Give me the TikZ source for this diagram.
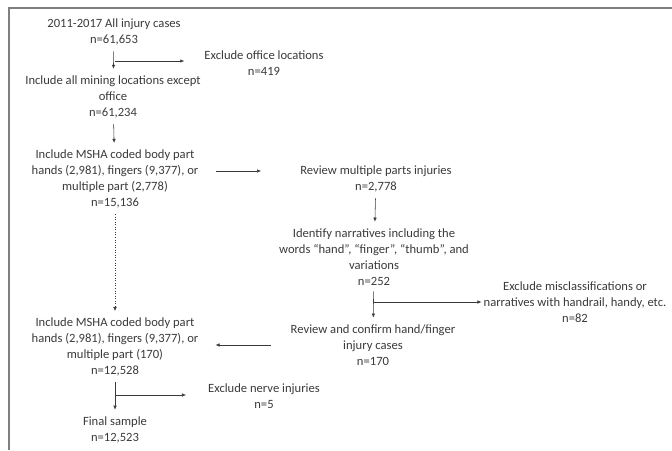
\documentclass[tikz,border=0pt]{standalone}
\usepackage{fontspec}
\setmainfont{Carlito}
\usetikzlibrary{arrows.meta}
\definecolor{txt}{HTML}{3A3A3A}
\definecolor{frm}{HTML}{7F7F7F}
\tikzset{
  box/.style={align=center, inner sep=0pt, text=txt,
    font=\fontsize{12.6}{15.8}\selectfont},
  arr/.style={-{Latex[length=4pt,width=3.5pt]}, draw=txt, line width=0.55pt,
    shorten <=6pt, shorten >=7pt},
  hop/.style={-{Latex[length=4pt,width=3.5pt]}, draw=txt, line width=0.55pt}
}
\begin{document}
\begin{tikzpicture}[x=1pt, y=-1pt]
        \useasboundingbox (0,0) rectangle (672,450);
        \draw[frm, line width=1.6pt] (9,450) -- (9,8) -- (672,8);
        % main column
        \node (s0) [box] at (114, 32) {2011-2017 All injury cases\\n=61,653};
        \node (s1) [box] at (113, 97) {Include all mining locations except\\office\\n=61,234};
        \node (s2) [box] at (115, 179) {Include MSHA coded body part\\hands (2,981), fingers (9,377), or\\multiple part (2,778)\\n=15,136};
        \node (s3) [box] at (115, 347) {Include MSHA coded body part\\hands (2,981), fingers (9,377), or\\multiple part (170)\\n=12,528};
        \node (s4) [box] at (115, 430) {Final sample\\n=12,523};
        % review column
        \node (r0) [box] at (376, 179) {Review multiple parts injuries\\n=2,778};
        \node (r1) [box] at (374, 257) {Identify narratives including the\\words ``hand'', ``finger'', ``thumb'', and\\variations\\n=252};
        \node (r2) [box] at (373, 345) {Review and confirm hand/finger\\injury cases\\n=170};
        % exclusions
        \node (x0) [box] at (264, 63) {Exclude office locations\\n=419};
        \node (x1) [box] at (575, 302) {Exclude misclassifications or\\narratives with handrail, handy, etc.\\n=82};
        \node (x2) [box] at (264, 396) {Exclude nerve injuries\\n=5};
        \coordinate (c0) at (115, 61);
        \coordinate (c1) at (373, 302);
        \coordinate (c2) at (115, 395);
        \draw (s0) edge [arr] (s1);
        \draw (s1) edge [arr] (s2);
        \draw (s2) edge [arr, dotted, line width=0.4pt] (s3);
        \draw (s3) edge [arr] (s4);
        \draw (r0) edge [arr] (r1);
        \draw (r1) edge [arr] (r2);
        \draw [hop, shorten <=17pt, shorten >=39pt] ([yshift=8pt]s2.east) -- ([yshift=8pt]s2.east -| r0.west);
        \draw [hop, shorten <=20pt, shorten >=17pt] (r2.west) -- (r2.west -| s3.east);
        \draw (c0) edge [hop, shorten >=20pt] (c0 -| x0.west);
        \draw (c1) edge [hop, shorten >=2pt] (c1 -| x1.west);
        \draw (c2) edge [hop, shorten >=22pt] (c2 -| x2.west);
\end{tikzpicture}
\end{document}
